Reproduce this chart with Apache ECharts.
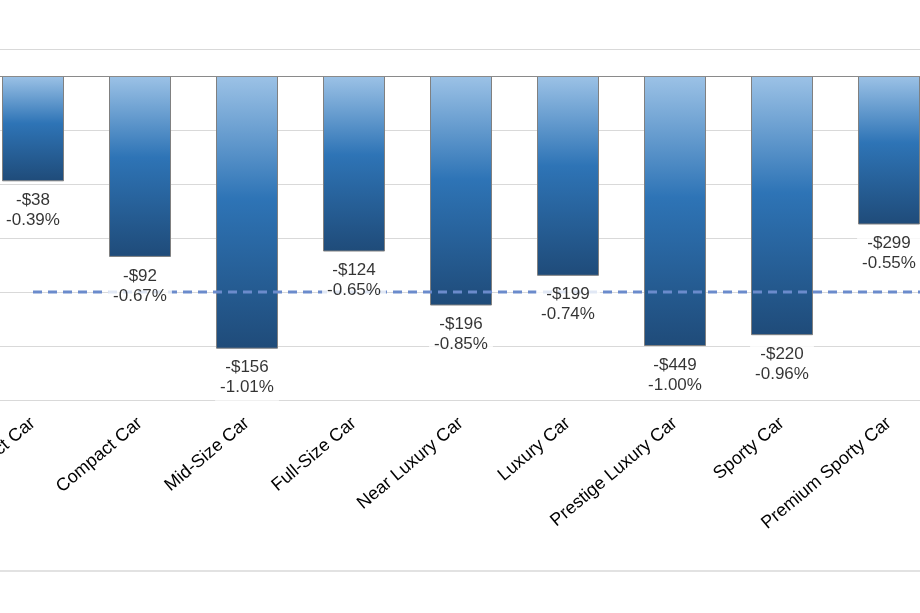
<!DOCTYPE html>
<html>
<head>
<meta charset="utf-8">
<style>
  html, body { margin: 0; padding: 0; background: #fff; }
  #main { width: 920px; height: 613px; }
</style>
<script src="https://cdn.jsdelivr.net/npm/echarts@6/dist/echarts.min.js"></script>
</head>
<body>
<div id="main"></div>
<script>
// segment names (the last one runs off the right edge of the picture)
var categories = ['Subcompact Car', 'Compact Car', 'Mid-Size Car', 'Full-Size Car', 'Near Luxury Car',
  'Luxury Car', 'Prestige Luxury Car', 'Sporty Car', 'Premium Sporty Car', ''];
// change in percent (bar height)
var pctChange = [-0.39, -0.67, -1.01, -0.65, -0.85, -0.74, -1.00, -0.96, -0.55, null];
// change in dollars (label only)
var dollarChange = [-38, -92, -156, -124, -196, -199, -449, -220, -299, null];
// industry average, dashed line
var avgPct = [-0.80, -0.80, -0.80, -0.80, -0.80, -0.80, -0.80, -0.80, -0.80, -0.80];

var chart = echarts.init(document.getElementById('main'));

function money(v) {
  return (v < 0 ? '-$' : '$') + Math.abs(v);
}

var barColor = new echarts.graphic.LinearGradient(0, 0, 0, 1, [
  { offset: 0, color: '#9cc2e6' },
  { offset: 0.45, color: '#2e74b6' },
  { offset: 1, color: '#1f4b79' }
]);

var option = {
  animation: false,
  backgroundColor: '#fff',
  textStyle: { fontFamily: 'Liberation Sans, Arial, sans-serif' },
  grid: {
    left: -20.5,
    right: -129.5,
    top: 49,
    bottom: 213,
    containLabel: false,
    outerBoundsMode: 'none'
  },
  xAxis: {
    type: 'category',
    data: categories,
    axisLine: { show: false },
    axisTick: { show: false },
    axisLabel: {
      rotate: 40,
      margin: 21,
      fontSize: 18,
      color: '#000',
      interval: 0
    }
  },
  yAxis: {
    type: 'value',
    min: -1.2,
    max: 0.1,
    interval: 0.2,
    axisLine: { show: false },
    axisTick: { show: false },
    axisLabel: { show: false },
    splitLine: { lineStyle: { color: '#d9d9d9', width: 1 } }
  },
  graphic: [{
    type: 'line',
    shape: { x1: 0, y1: 571, x2: 920, y2: 571 },
    style: { stroke: '#d9d9d9', lineWidth: 1.5 },
    silent: true
  }],
  series: [
    {
      type: 'bar',
      data: pctChange,
      barWidth: 62,
      z: 2,
      itemStyle: { color: barColor, borderColor: '#808080', borderWidth: 1 },
      markLine: {
        silent: true,
        symbol: 'none',
        label: { show: false },
        lineStyle: { color: '#8a8a8a', type: 'solid', width: 1.2 },
        data: [{ yAxis: 0 }]
      }
    },
    {
      type: 'line',
      data: avgPct,
      z: 3,
      symbol: 'none',
      silent: true,
      lineStyle: { color: '#6b8bcc', width: 3, type: [9, 6] }
    },
    {
      type: 'scatter',
      data: pctChange,
      z: 4,
      symbolSize: 0,
      silent: true,
      label: {
        show: true,
        position: 'bottom',
        distance: 8,
        fontSize: 17,
        lineHeight: 20,
        color: '#000',
        backgroundColor: '#fff',
        padding: [1, 5, 3, 5],
        align: 'center',
        formatter: function (p) {
          return money(dollarChange[p.dataIndex]) + '\n' + pctChange[p.dataIndex].toFixed(2) + '%';
        }
      }
    }
  ]
};

chart.setOption(option);
</script>
</body>
</html>
